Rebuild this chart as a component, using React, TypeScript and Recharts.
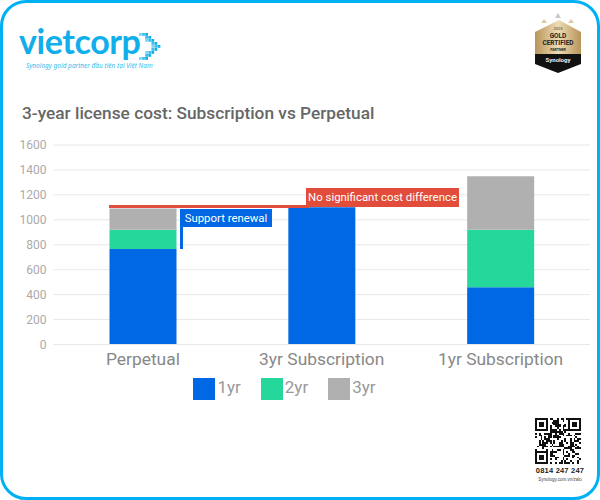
import { Bar, BarChart, CartesianGrid, Legend, XAxis, YAxis } from 'recharts';

const categories = ['Perpetual', '3yr Subscription', '1yr Subscription'];
const year1 = [765, 1100, 460];
const year2 = [155, 0, 460];
const year3 = [170, 0, 430];
const yTicks = [0, 200, 400, 600, 800, 1000, 1200, 1400, 1600];

const data = categories.map((name, i) => ({
  name,
  '1yr': year1[i],
  '2yr': year2[i],
  '3yr': year3[i],
}));

const FONT = 'Roboto, sans-serif';

// deterministic QR-looking filler, the real code can't be read at this size
const qrCells = () => {
  const size = 25;
  const cells: [number, number][] = [];
  const finder = (x: number, y: number) => x < 7 && y < 7 && (x === 0 || y === 0 || x === 6 || y === 6 || (x > 1 && x < 5 && y > 1 && y < 5));
  for (let y = 0; y < size; y++) {
    for (let x = 0; x < size; x++) {
      const inTL = x < 8 && y < 8;
      const inTR = x >= size - 8 && y < 8;
      const inBL = x < 8 && y >= size - 8;
      let on = false;
      if (inTL) on = finder(x, y);
      else if (inTR) on = finder(x - (size - 7), y);
      else if (inBL) on = finder(x, y - (size - 7));
      else on = ((x * 7 + y * 13 + x * y * 3) ^ (x * x + y)) % 5 < 2;
      if (on) cells.push([x, y]);
    }
  }
  return cells;
};

// chevron made of small squares, fading towards its back edge
const chevronCells = () => {
  const cells: [number, number, number][] = [];
  for (let row = 0; row < 9; row++) {
    const tip = 4 - Math.abs(row - 4);
    for (let col = 0; col < 3; col++) {
      if (col > 0 || row % 2 === 0) cells.push([tip + col, row, col === 0 ? 0.55 : col === 1 ? 0.8 : 1]);
    }
  }
  return cells;
};

const Logo = () => (
  <div style={{ position: 'absolute', left: 19, top: 24, width: 150, height: 48 }}>
    <div style={{ position: 'absolute', left: 0, top: 0, fontFamily: 'Lato, sans-serif', fontSize: 34, fontWeight: 700, letterSpacing: -0.4, color: '#10aeea', lineHeight: '34px' }}>
      vietcorp
    </div>
    <svg style={{ position: 'absolute', left: 120, top: 9 }} width={22} height={28}>
      {chevronCells().map(([c, r, o], i) => (
        <rect key={i} x={c * 3.1} y={r * 3} width={2.8} height={2.8} fill="#10aeea" opacity={o} />
      ))}
    </svg>
    <div style={{ position: 'absolute', left: 7, top: 38, fontFamily: '"Noto Sans", sans-serif', fontSize: 6.5, fontStyle: 'italic', color: '#3db8ea', whiteSpace: 'nowrap', lineHeight: '8px' }}>
      Synology gold partner đầu tiên tại Việt Nam
    </div>
  </div>
);

const Badge = () => (
  <svg style={{ position: 'absolute', left: 530, top: 10 }} width={60} height={66} fontFamily={FONT} textAnchor="middle">
    <defs>
      <linearGradient id="gold" x1="0" x2="1" y1="0" y2="0">
        <stop offset="0" stopColor="#b8945a" />
        <stop offset="0.5" stopColor="#eedcb4" />
        <stop offset="1" stopColor="#b8945a" />
      </linearGradient>
    </defs>
    <polygon points="5,22 29,10 51,22 51,44 5,44" fill="url(#gold)" />
    <polygon points="5,44 51,44 51,54 28,63 5,54" fill="#111" />
    <polygon points="28,3 31,8 25,8" fill="#c9c9c9" />
    <polygon points="14,9 17,13 11,13" fill="#e0c9a0" />
    <polygon points="41,9 44,13 38,13" fill="#e0c9a0" />
    <text x={28} y={20} fontSize={4} fill="#333">2023</text>
    <text x={28} y={28} fontSize={6.5} fontWeight={700} fill="#222">GOLD</text>
    <text x={28} y={35} fontSize={6.5} fontWeight={700} fill="#222">CERTIFIED</text>
    <text x={28} y={41} fontSize={3.6} fontWeight={700} fill="#222">PARTNER</text>
    <text x={28} y={52} fontSize={6} fontWeight={700} fill="#eee">Synology</text>
  </svg>
);

const Qr = () => (
  <div style={{ position: 'absolute', left: 530, top: 415, width: 60, textAlign: 'center', fontFamily: '"Liberation Sans", sans-serif' }}>
    <svg width={46} height={46} viewBox="0 0 25 25" style={{ display: 'block', margin: '3px 0 0 5px' }} shapeRendering="crispEdges">
      {qrCells().map(([x, y]) => (
        <rect key={`${x}-${y}`} x={x} y={y} width={1} height={1} fill="#111" />
      ))}
    </svg>
    <div style={{ fontSize: 7.5, fontWeight: 700, color: '#222', marginTop: 2, whiteSpace: 'nowrap', letterSpacing: 0.2, lineHeight: '10px' }}>0814 247 247</div>
    <div style={{ fontSize: 4.5, color: '#444', whiteSpace: 'nowrap', lineHeight: '7px' }}>Synology.com.vn/zalo</div>
  </div>
);

const App = () => (
  <div style={{ position: 'absolute', left: 0, top: 0, width: 600, height: 500, background: '#fff', overflow: 'hidden' }}>
    <BarChart
      width={600}
      height={500}
      data={data}
      margin={{ top: 145, right: 10, left: 23.5, bottom: 103 }}
      barCategoryGap={0}
    >
      <CartesianGrid vertical={false} stroke="#e8e8e8" />
      <XAxis
        dataKey="name"
        height={30}
        axisLine={{ stroke: '#e8e8e8' }}
        tickLine={false}
        interval={0}
        tick={{ fill: '#888', fontSize: 17.4, fontFamily: FONT }}
      />
      <YAxis
        width={30}
        domain={[0, 1600]}
        ticks={yTicks}
        axisLine={false}
        tickLine={false}
        tickMargin={1}
        tick={{ fill: '#aaa', fontSize: 12, fontFamily: FONT }}
      />
      <Bar dataKey="1yr" stackId="a" fill="#0068e4" barSize={67} isAnimationActive={false} />
      <Bar dataKey="2yr" stackId="a" fill="#26d79b" barSize={67} isAnimationActive={false} />
      <Bar dataKey="3yr" stackId="a" fill="#b0b0b0" barSize={67} isAnimationActive={false} />
      <Legend
        iconType="square"
        iconSize={22}
        wrapperStyle={{ top: 377, left: 0, width: 589, fontFamily: FONT, fontSize: 17 }}
        formatter={(value) => <span style={{ color: '#999', margin: '0 10px 0 -2px' }}>{value}</span>}
      />
    </BarChart>

    {/* frame */}
    <div style={{ position: 'absolute', inset: 0, boxSizing: 'border-box', border: '3px solid #00b0f5', borderRadius: 26, pointerEvents: 'none' }} />

    <Logo />
    <Badge />
    <Qr />

    <div style={{ position: 'absolute', left: 22, top: 100, fontFamily: FONT, fontSize: 17.3, fontWeight: 500, color: '#666', whiteSpace: 'nowrap', lineHeight: '26px' }}>
      3-year license cost: Subscription vs Perpetual
    </div>

    {/* annotations */}
    <div style={{ position: 'absolute', left: 109, top: 204.5, width: 200, height: 3, background: '#e24c3a' }} />
    <div style={{ position: 'absolute', left: 306, top: 188, width: 153, height: 19, background: '#e24c3a', color: '#fff', fontFamily: FONT, fontSize: 11.4, lineHeight: '19px', textAlign: 'center', whiteSpace: 'nowrap' }}>
      No significant cost difference
    </div>
    <div style={{ position: 'absolute', left: 180, top: 209, width: 92, height: 18, background: '#0068e4', color: '#fff', fontFamily: FONT, fontSize: 11.4, lineHeight: '18px', textAlign: 'center', whiteSpace: 'nowrap' }}>
      Support renewal
    </div>
    <div style={{ position: 'absolute', left: 180, top: 227, width: 2.5, height: 22, background: '#0068e4' }} />
  </div>
);

export default App;
